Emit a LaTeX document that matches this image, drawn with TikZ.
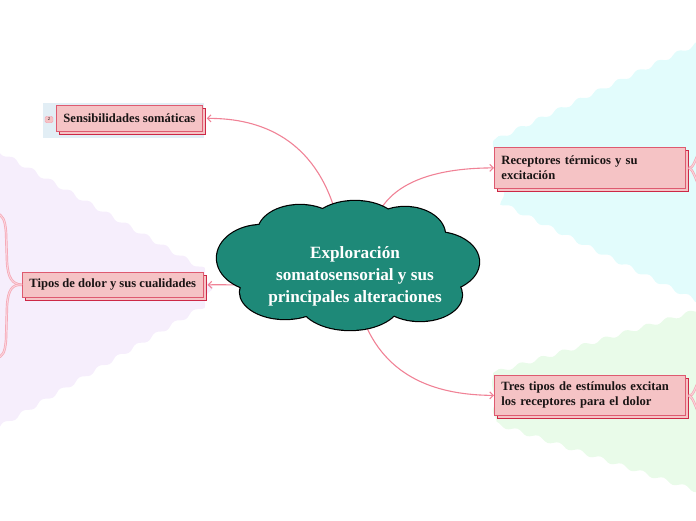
\documentclass[tikz,border=0pt]{standalone}
\usepackage{fontspec}
\setmainfont{Liberation Serif}
\usetikzlibrary{arrows.meta,shadows,decorations.pathmorphing}
\definecolor{hubteal}{RGB}{30,137,120}
\definecolor{boxfill}{RGB}{245,195,197}
\definecolor{boxedge}{RGB}{205,40,70}
\definecolor{boxedgelt}{RGB}{222,90,112}
\definecolor{connpink}{RGB}{240,130,150}
\definecolor{lavbg}{RGB}{246,238,252}
\definecolor{cyanbg}{RGB}{226,252,252}
\definecolor{greenbg}{RGB}{233,251,233}
\definecolor{bluebg}{RGB}{226,238,245}
\definecolor{forkpink}{RGB}{245,165,180}
\definecolor{forkin}{RGB}{251,212,220}
\definecolor{inktext}{RGB}{25,20,20}
\begin{document}
\begin{tikzpicture}[x=1pt,y=-1pt,
  wavy/.style={decorate,decoration={snake,segment length=22pt,amplitude=2pt}},
  topicbox/.style={draw=boxedgelt,fill=boxfill,line width=0.8pt,text=inktext,
    font=\bfseries\fontsize{12.6}{15}\selectfont,inner xsep=7pt,inner ysep=2pt,
    general shadow={fill=boxfill,draw=boxedge,line width=0.8pt,shadow xshift=2.8pt,shadow yshift=-2.8pt}},
  conn/.style={draw=connpink,line width=1.1pt,-{Straight Barb[length=3.5pt,width=7pt]}},
  fork/.style={draw=forkpink,double=forkin,double distance=1pt,line width=0.7pt},
  badge/.style={draw=forkpink,fill=boxfill,rounded corners=1.5pt,minimum width=8pt,minimum height=6.5pt,inner sep=0pt,font=\fontsize{4.5}{4.5}\selectfont}
]
\useasboundingbox (0,0) rectangle (696,520);
\begin{scope}
\clip (0,0) rectangle (696,520);
% background regions
\fill[lavbg,wavy] (-12,145) -- (198,266) -- (206,285) -- (198,304) -- (-12,428) -- cycle;
\fill[cyanbg,wavy] (493,141) -- (705,40) -- (705,300) -- (493,194) -- cycle;
\fill[greenbg,wavy] (493,373) -- (705,308) -- (705,492) -- (493,421) -- cycle;
\fill[bluebg] (43,103) -- (204,103) -- (204,138) -- (43,138) -- cycle;

% topic boxes
\node[topicbox,minimum width=142pt,minimum height=26pt,anchor=north west] (sens) at (56,105) {Sensibilidades somáticas};
\node[topicbox,minimum width=177pt,minimum height=25pt,anchor=north west] (tipos) at (22,272) {Tipos de dolor y sus cualidades};
\node[topicbox,minimum width=191pt,minimum height=41pt,text width=177pt,align=left,anchor=north west] (term) at (494,147) {Receptores térmicos y su\\excitación};
\node[topicbox,minimum width=191pt,minimum height=40pt,text width=177pt,align=left,anchor=north west] (tres) at (494,375) {Tres tipos de estímulos excitan\\los receptores para el dolor};
\node[badge] (num) at (49,119.5) {2};

% forks
\coordinate (tl) at (-4,213);
\coordinate (bl) at (-4,358);
\draw[fork] (tipos.west) .. controls (12,284) and (8,278) .. (7,262) -- (6,232) .. controls (5,220) and (3,215) .. (tl);
\draw[fork] (tipos.west) .. controls (12,284) and (8,290) .. (7,306) -- (6,340) .. controls (5,352) and (3,357) .. (bl);
\coordinate (tr1) at (700,150);
\coordinate (tr2) at (700,188);
\coordinate (gr1) at (700,378);
\coordinate (gr2) at (700,416);
\draw[fork] ([xshift=3pt]term.east) .. controls (693,169) and (695,160) .. (tr1);
\draw[fork] ([xshift=3pt]term.east) .. controls (693,169) and (695,178) .. (tr2);
\draw[fork] ([xshift=3pt]tres.east) .. controls (693,397) and (695,388) .. (gr1);
\draw[fork] ([xshift=3pt]tres.east) .. controls (693,397) and (695,406) .. (gr2);

% connectors (start under the cloud)
\coordinate (s1) at (336,214);
\coordinate (s2) at (250,285);
\coordinate (s3) at (378,214);
\coordinate (s4) at (362,316);
\draw[conn] (s1) .. controls (315,140) and (262,118) .. ([xshift=4pt]sens.east);
\draw[conn] (s2) .. controls (230,285) and (220,284.5) .. ([xshift=4pt]tipos.east);
\draw[conn] (s3) .. controls (395,180) and (440,168) .. (term.west);
\draw[conn] (s4) .. controls (385,380) and (440,395) .. (tres.west);

% cloud
\foreach \cx/\cy/\rx/\ry in {262/258/45/33, 300/232/42/27, 355/228/45/27, 405/235/40/28, 435/262/44/30, 420/295/42/26, 350/302/50/28, 285/292/45/27}
  \draw[black,line width=2.4pt] (\cx,\cy) ellipse [x radius=\rx, y radius=\ry];
\foreach \cx/\cy/\rx/\ry in {262/258/45/33, 300/232/42/27, 355/228/45/27, 405/235/40/28, 435/262/44/30, 420/295/42/26, 350/302/50/28, 285/292/45/27, 350/265/100/45}
  \fill[hubteal] (\cx,\cy) ellipse [x radius=\rx, y radius=\ry];
\node[text=white,font=\bfseries\fontsize{17.2}{22}\selectfont,align=center] (hub) at (355,276) {Exploración\\somatosensorial y sus\\principales alteraciones};
\end{scope}
\end{tikzpicture}
\end{document}
